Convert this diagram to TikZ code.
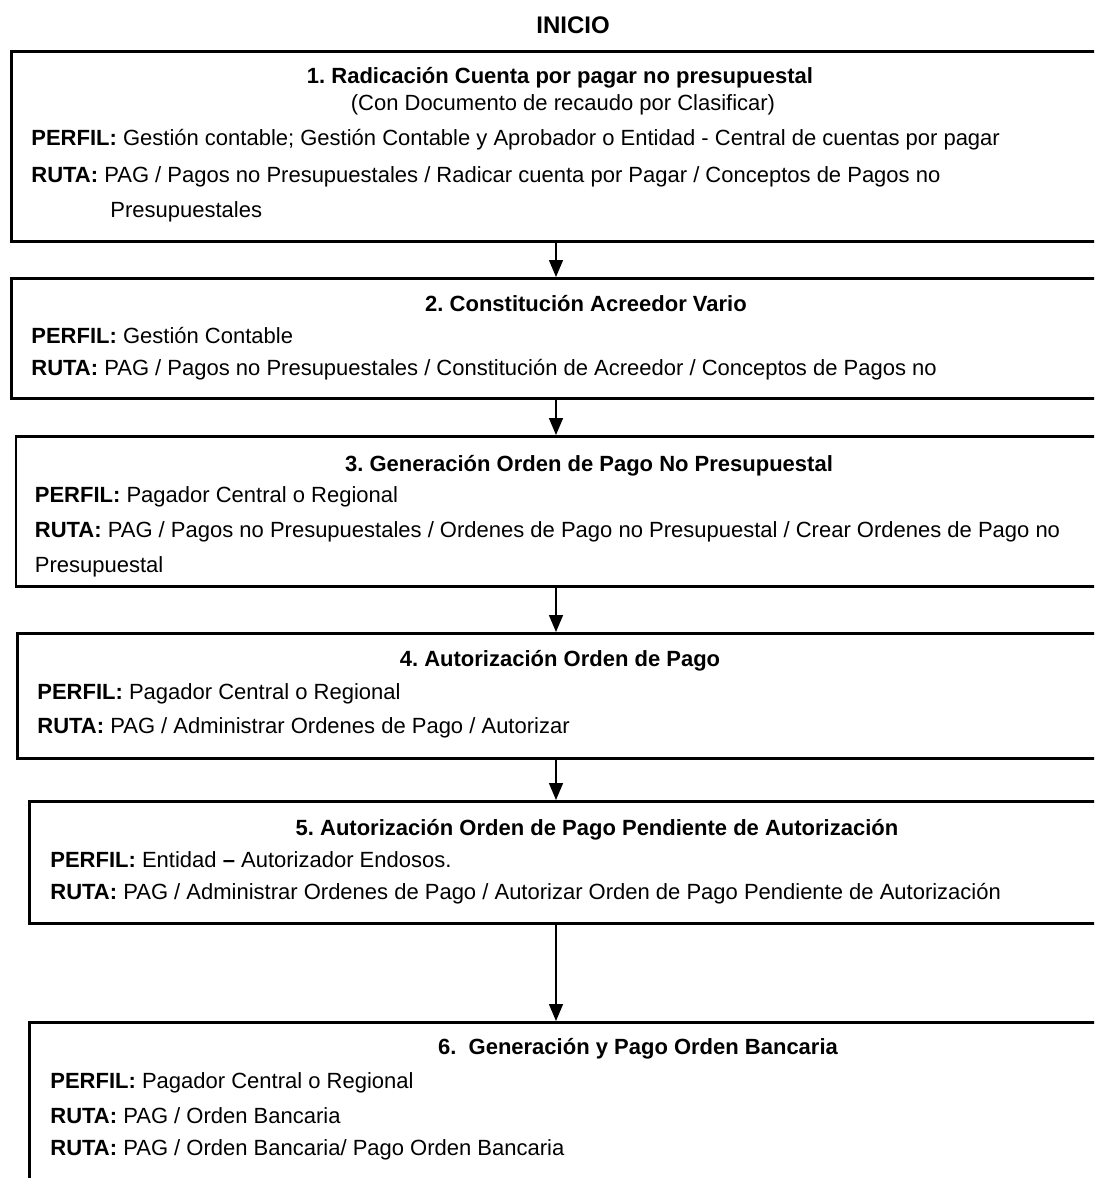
\documentclass[tikz,border=0pt]{standalone}
\usepackage{fontspec}
\setmainfont{Liberation Sans}
\usetikzlibrary{arrows.meta}

\newcommand{\boxfont}{\fontsize{11}{13}\selectfont\frenchspacing}

\tikzset{
  stepbox/.style={draw, line width=1.3pt, anchor=north west, minimum width=560pt, inner sep=0pt},
  titletxt/.style={font=\boxfont\bfseries, anchor=base, inner sep=0pt},
  linetxt/.style={font=\boxfont, anchor=base west, inner sep=0pt},
  flow/.style={-{Triangle[length=8.5pt,width=7pt]}, line width=0.75pt}
}

\begin{document}
\begin{tikzpicture}[x=0.5pt, y=-0.5pt]
    % Diagram: six process boxes, one under the other, cut at the right edge.
    % Coordinates in pixels: (x, y), y grows downwards
    %   page 1094 x 1178
    %   arrows run down x=556 between the boxes
    \useasboundingbox (0,0) rectangle (1094,1178);
    \clip (0,0) rectangle (1094,1178);
    \coordinate (axis) at (556,0);

    \node[titletxt, font=\fontsize{12}{14}\selectfont\bfseries] (inicio) at (573,33) {INICIO};

    % box 1
    \node[stepbox, minimum height=95pt] (b1) at (10,50) {};
    \node[titletxt] (t1) at (560,83) {1. Radicación Cuenta por pagar no presupuestal};
    \node[font=\boxfont, anchor=base, inner sep=0pt] (s1) at (563,110) {(Con Documento de recaudo por Clasificar)};
    \node[linetxt] (p1) at (31,145) {\textbf{PERFIL:} Gestión contable; Gestión Contable y Aprobador o Entidad - Central de cuentas por pagar};
    \node[linetxt] (r1) at (31,182) {\textbf{RUTA:} PAG / Pagos no Presupuestales / Radicar cuenta por Pagar / Conceptos de Pagos no};
    \node[linetxt] (r1b) at (110,217) {Presupuestales};

    % box 2
    \node[stepbox, minimum height=60pt] (b2) at (10,277) {};
    \node[titletxt] (t2) at (586,311) {2. Constitución Acreedor Vario};
    \node[linetxt] (p2) at (31,343) {\textbf{PERFIL:} Gestión Contable};
    \node[linetxt] (r2) at (31,375) {\textbf{RUTA:} PAG / Pagos no Presupuestales / Constitución de Acreedor / Conceptos de Pagos no};

    % box 3
    \node[stepbox, minimum height=75pt] (b3) at (14.5,435) {};
    \node[titletxt] (t3) at (589,471) {3. Generación Orden de Pago No Presupuestal};
    \node[linetxt] (p3) at (34.5,502) {\textbf{PERFIL:} Pagador Central o Regional};
    \node[linetxt] (r3) at (34.5,537) {\textbf{RUTA:} PAG / Pagos no Presupuestales / Ordenes de Pago no Presupuestal / Crear Ordenes de Pago no};
    \node[linetxt] (r3b) at (34.5,572) {Presupuestal};

    % box 4
    \node[stepbox, minimum height=62.5pt] (b4) at (16,632) {};
    \node[titletxt] (t4) at (560,666) {4. Autorización Orden de Pago};
    \node[linetxt] (p4) at (37,699) {\textbf{PERFIL:} Pagador Central o Regional};
    \node[linetxt] (r4) at (37,733) {\textbf{RUTA:} PAG / Administrar Ordenes de Pago / Autorizar};

    % box 5
    \node[stepbox, minimum height=61pt] (b5) at (28,800) {};
    \node[titletxt] (t5) at (597,835) {5. Autorización Orden de Pago Pendiente de Autorización};
    \node[linetxt] (p5) at (50,867) {\textbf{PERFIL:} Entidad \textbf{–} Autorizador Endosos.};
    \node[linetxt] (r5) at (50,899) {\textbf{RUTA:} PAG / Administrar Ordenes de Pago / Autorizar Orden de Pago Pendiente de Autorización};

    % box 6
    \node[stepbox, minimum height=100pt] (b6) at (28,1021) {};
    \node[titletxt] (t6) at (638,1054) {6.\ \ Generación y Pago Orden Bancaria};
    \node[linetxt] (p6) at (50,1088) {\textbf{PERFIL:} Pagador Central o Regional};
    \node[linetxt] (r6) at (50,1123) {\textbf{RUTA:} PAG / Orden Bancaria};
    \node[linetxt] (r6b) at (50,1155) {\textbf{RUTA:} PAG / Orden Bancaria/ Pago Orden Bancaria};

    % arrows
    \draw[flow] (b1.south -| axis) -- (b2.north -| axis);
    \draw[flow] (b2.south -| axis) -- (b3.north -| axis);
    \draw[flow] (b3.south -| axis) -- (b4.north -| axis);
    \draw[flow] (b4.south -| axis) -- (b5.north -| axis);
    \draw[flow] (b5.south -| axis) -- (b6.north -| axis);
\end{tikzpicture}
\end{document}
